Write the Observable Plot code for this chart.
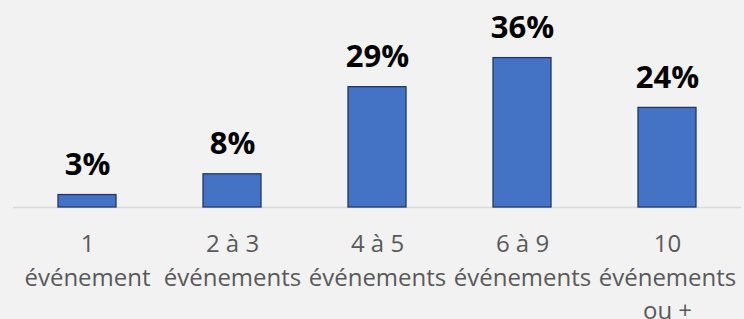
<!DOCTYPE html>
<html>
<head>
<meta charset="utf-8">
<script src="https://cdn.jsdelivr.net/npm/d3@7"></script>
<script src="https://cdn.jsdelivr.net/npm/@observablehq/plot@0.6"></script>
<style>
  html, body { margin: 0; padding: 0; background: #f2f2f2; }
  #chart svg { display: block; background: #f2f2f2; }
</style>
</head>
<body>
<div id="chart"></div>
<script>
const categories = ["1\névénement", "2 à 3\névénements", "4 à 5\névénements", "6 à 9\névénements", "10\névénements\nou +"];
const values = [3, 8, 29, 36, 24];
const valueLabels = ["3%", "8%", "29%", "36%", "24%"];

const data = categories.map((c, i) => ({cat: c, value: values[i], label: valueLabels[i]}));

const chart = Plot.plot({
  width: 744,
  height: 319,
  marginLeft: 13,
  marginRight: 3,
  marginTop: 41,
  marginBottom: 112,
  style: {background: "#f2f2f2", fontFamily: "'Open Sans', sans-serif"},
  x: {domain: categories, paddingInner: 0.6, paddingOuter: 0.3, label: null},
  y: {domain: [0, 40], axis: null},
  marks: [
    Plot.ruleY([0], {stroke: "#d9d9d9", strokeWidth: 1.5}),
    Plot.barY(data, {x: "cat", y: "value", fill: "#4472C4", stroke: "#1f3864", strokeWidth: 1.3}),
    Plot.text(data, {x: "cat", y: "value", text: "label", dy: -20, lineAnchor: "bottom",
      fontSize: 31, fontWeight: "bold", fill: "#000000"}),
    Plot.axisX({tickSize: 0, tickPadding: 21, fontSize: 24, lineHeight: 1.39, color: "#595959", label: null})
  ]
});
document.getElementById("chart").appendChild(chart);
</script>
</body>
</html>
